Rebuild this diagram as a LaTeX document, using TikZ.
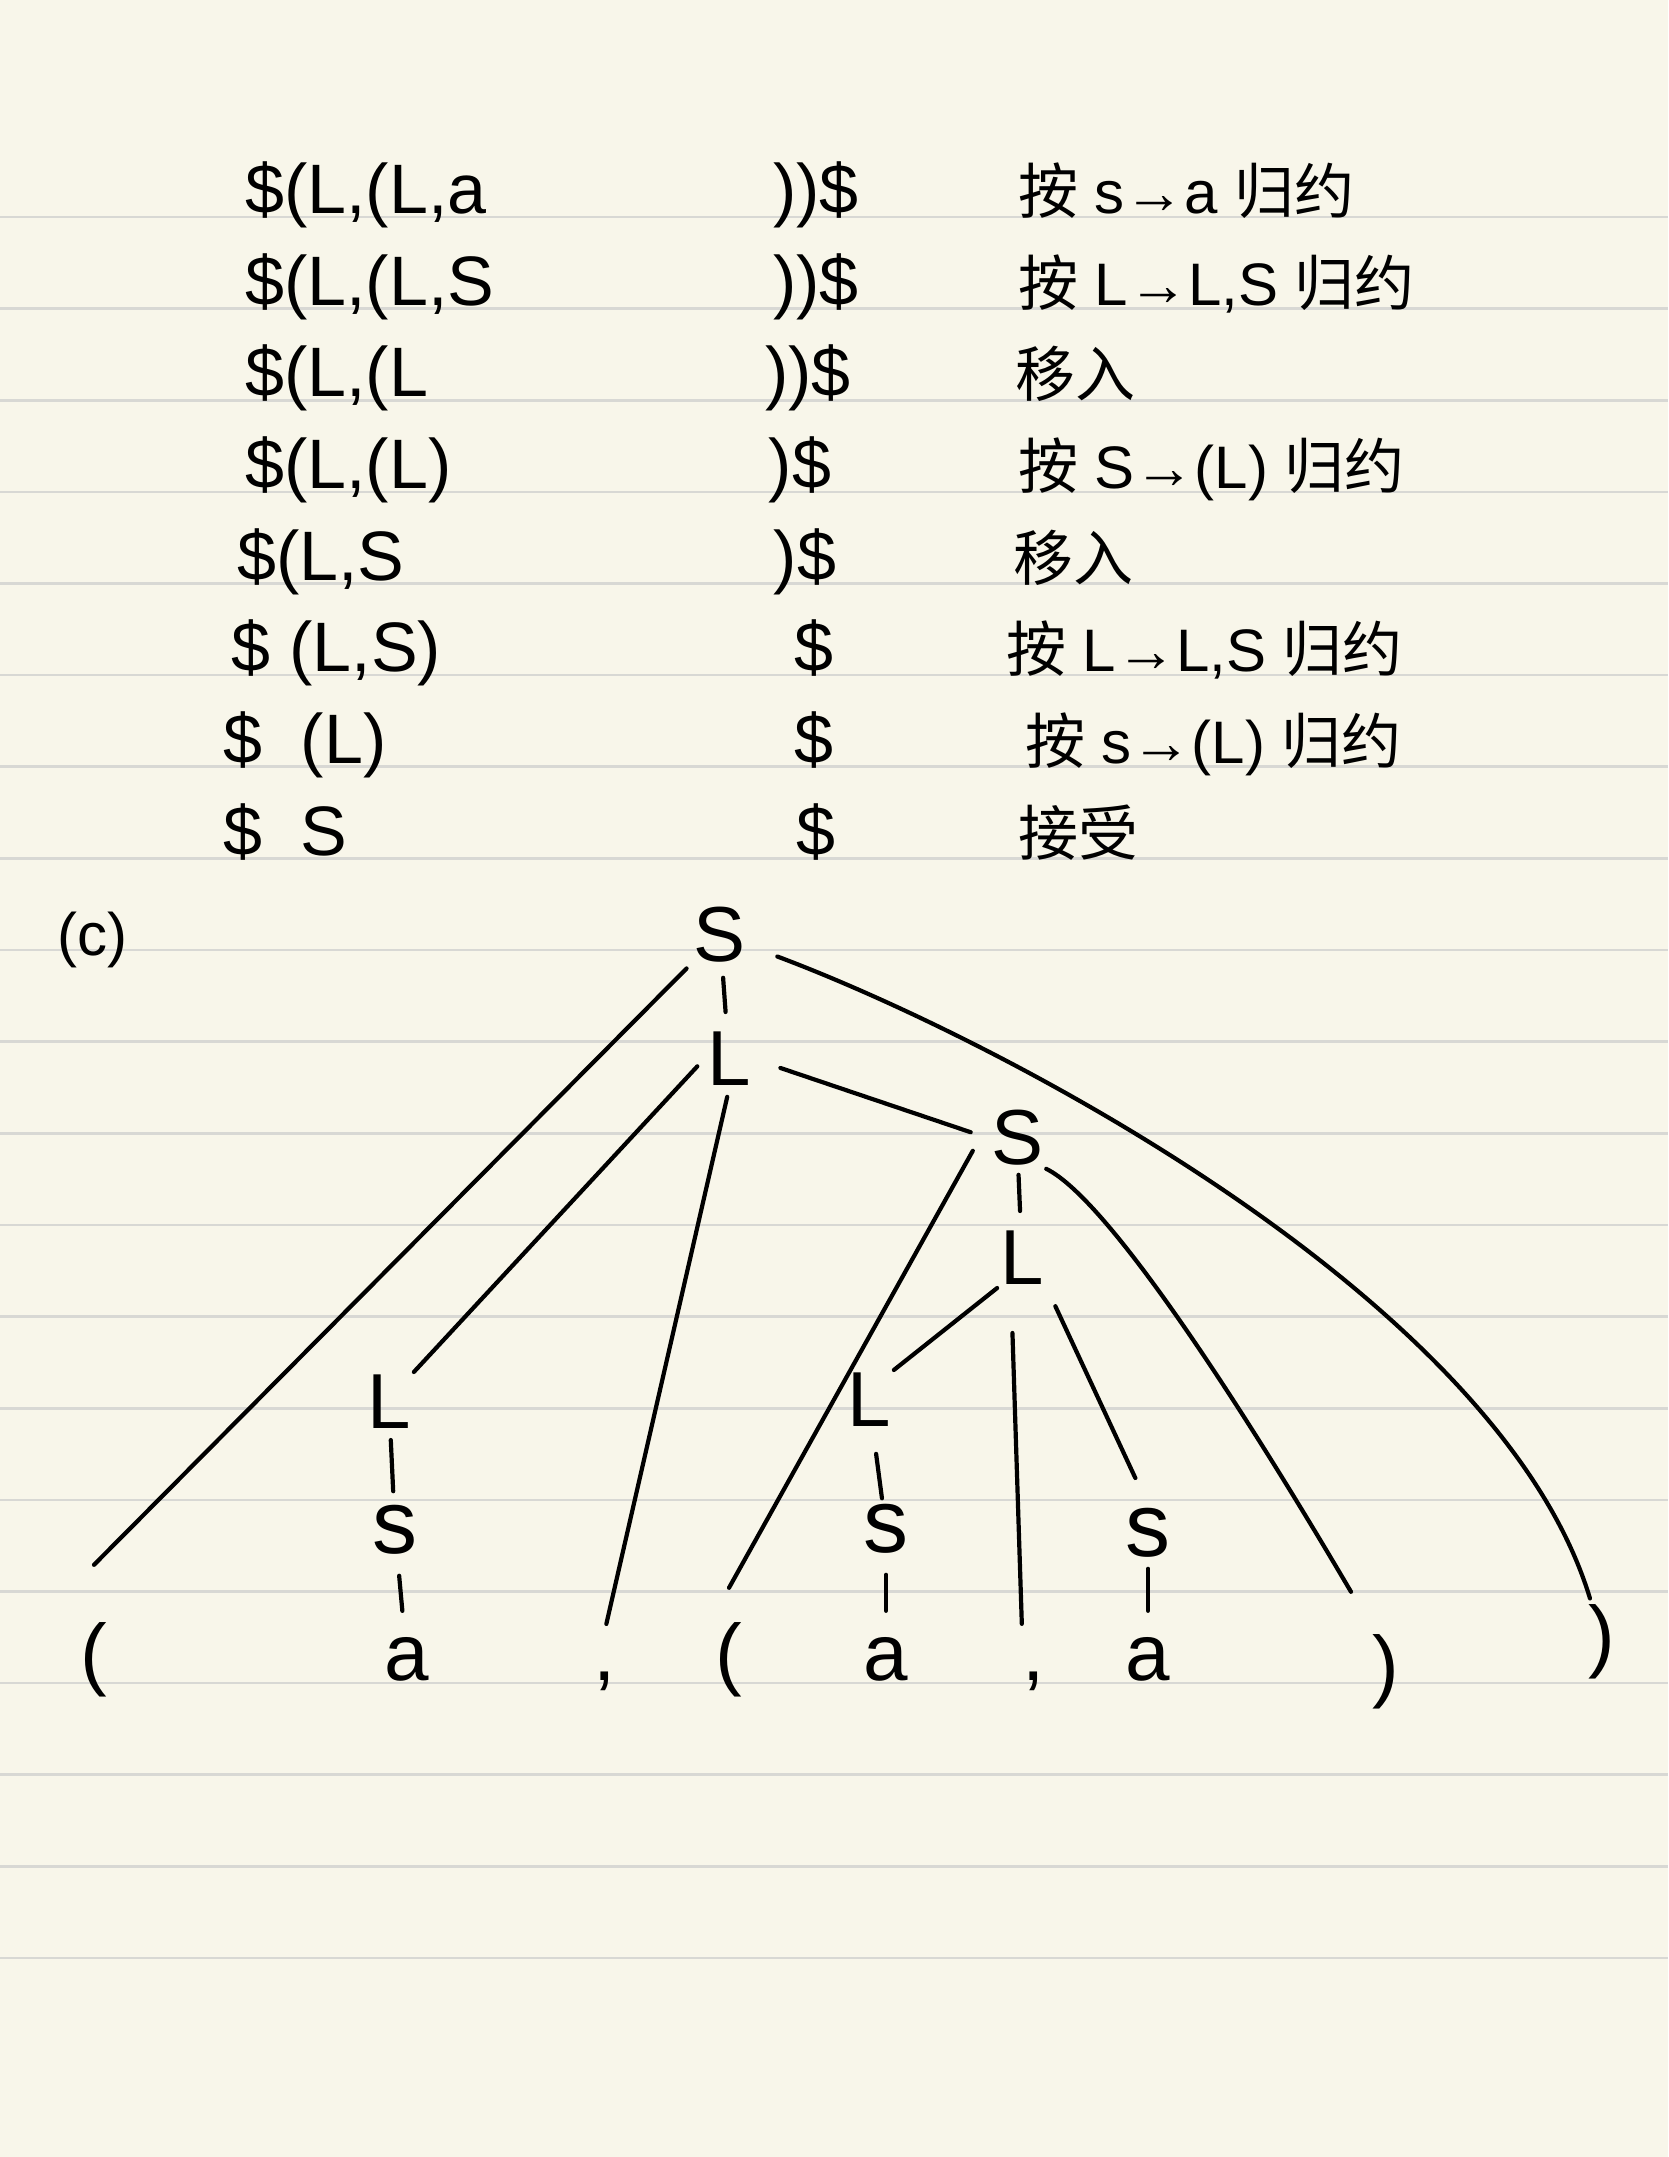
\documentclass[tikz,border=0pt]{standalone}
\usepackage{fontspec}
\setmainfont{Liberation Sans}
\newfontfamily\cjk{Noto Sans CJK SC}
\definecolor{paper}{HTML}{F8F6EA}
\definecolor{ruling}{HTML}{D8D8D4}
\tikzset{
  stack/.style={anchor=base west, inner sep=0pt, font=\fontsize{70}{80}\selectfont},
  input/.style={anchor=base, inner sep=0pt, font=\fontsize{70}{80}\selectfont},
  action/.style={anchor=base west, inner sep=0pt, font=\fontsize{60}{70}\selectfont},
  sym/.style={inner sep=3pt, font=\fontsize{78}{90}\selectfont},
  leaf/.style={anchor=base, inner sep=0pt, text height=50pt, text depth=14pt, font=\fontsize{80}{90}\selectfont},
  edge/.style={line width=4.2pt, line cap=round}
}
\begin{document}
\begin{tikzpicture}[x=1pt, y=-1pt]
    \useasboundingbox (0,0) rectangle (1668,2157);
    % Ruled paper
    \fill[paper] (0,0) rectangle (1668,2157);
    \foreach \k in {0,...,19}
        \draw[ruling, line width=2.6pt] (0,217+91.63*\k) -- (1668,217+91.63*\k);

    % Trace table
    \node[stack] (r1a) at (245,213) {\$(L,(L,a};
    \node[input] (r1b) at (816,213) {))\$};
    \node[action] (r1c) at (1018,213) {{\cjk 按} s→a {\cjk 归约}};

    \node[stack] (r2a) at (245,305) {\$(L,(L,S};
    \node[input] (r2b) at (816,305) {))\$};
    \node[action] (r2c) at (1018,305) {{\cjk 按} L→L,S {\cjk 归约}};

    \node[stack] (r3a) at (245,396) {\$(L,(L};
    \node[input] (r3b) at (808,396) {))\$};
    \node[action] (r3c) at (1015,396) {{\cjk 移入}};

    \node[stack] (r4a) at (245,488) {\$(L,(L)};
    \node[input] (r4b) at (800,488) {)\$};
    \node[action] (r4c) at (1018,488) {{\cjk 按} S→(L) {\cjk 归约}};

    \node[stack] (r5a) at (237,580) {\$(L,S};
    \node[input] (r5b) at (805,580) {)\$};
    \node[action] (r5c) at (1013,580) {{\cjk 移入}};

    \node[stack] (r6a) at (231,671) {\$ (L,S)};
    \node[input] (r6b) at (814,671) {\$};
    \node[action] (r6c) at (1006,671) {{\cjk 按} L→L,S {\cjk 归约}};

    \node[stack] (r7a) at (223,763) {\$ \ (L)};
    \node[input] (r7b) at (814,763) {\$};
    \node[action] (r7c) at (1025,763) {{\cjk 按} s→(L) {\cjk 归约}};

    \node[stack] (r8a) at (223,855) {\$ \ S};
    \node[input] (r8b) at (816,855) {\$};
    \node[action] (r8c) at (1018,855) {{\cjk 接受}};

    % Parse tree
    \node[font=\fontsize{60}{70}\selectfont] (tag) at (92,940) {(c)};

    \node[sym] (root) at (720,935) {S};
    \node[sym] (l1) at (729,1059) {L};
    \node[sym] (s2) at (1017,1138) {S};
    \node[sym] (l2) at (1022,1258) {L};
    \node[sym] (l3) at (389,1402) {L};
    \node[sym] (l4) at (869,1400) {L};
    \node[sym, font=\fontsize{90}{100}\selectfont] (sa) at (395,1530) {s};
    \node[sym, font=\fontsize{90}{100}\selectfont] (sb) at (886,1529) {s};
    \node[sym, font=\fontsize{90}{100}\selectfont] (sc) at (1148,1533) {s};

    \node[leaf] (lpa) at (94,1680) {(};
    \node[leaf] (aa) at (407,1680) {a};
    \node[leaf] (cma) at (605,1680) {,};
    \node[leaf] (lpb) at (729,1680) {(};
    \node[leaf] (ab) at (886,1680) {a};
    \node[leaf] (cmb) at (1034,1680) {,};
    \node[leaf] (ac) at (1148,1680) {a};
    \node[leaf] (rpa) at (1386,1692) {)};
    \node[leaf] (rpb) at (1602,1662) {)};

    % S -> ( L )
    \draw[edge, shorten <=6pt] (root) -- ([yshift=65pt]lpa.north);
    \draw[edge, shorten <=12pt, shorten >=17pt] (root) -- (l1);
    \draw[edge, shorten <=30pt, shorten >=14pt] (root) .. controls (1000,1040) and (1500,1300) .. ([xshift=-8pt]rpb.north);
    % L -> L , S
    \draw[edge, shorten <=10pt] (l1.west) -- (l3.north east);
    \draw[edge, shorten <=8pt, shorten >=6pt] (l1.south) -- (cma.north);
    \draw[edge, shorten <=28pt, shorten >=18pt] (l1.east) -- (s2.west);
    % S -> ( L )
    \draw[edge] ([xshift=-15pt,yshift=18pt]s2.south west) -- ([yshift=42pt]lpb.north);
    \draw[edge, shorten <=6pt, shorten >=17pt] (s2) -- (l2);
    \draw[edge] (s2.south east) .. controls (1110,1200) and (1250,1420) .. ([xshift=-35pt,yshift=50pt]rpa.north);
    % L -> L , S
    \draw[edge] (l2.south west) -- (l4.north east);
    \draw[edge, shorten <=45pt, shorten >=6pt] ([xshift=-11pt]l2.south) -- ([xshift=-12pt]cmb.north);
    \draw[edge, shorten <=20pt, shorten >=30pt] (l2.south east) -- (sc.north);
    % L -> S -> a
    \draw[edge, shorten <=8pt, shorten >=11pt] (l3) -- (sa);
    \draw[edge, shorten <=18pt, shorten >=19pt] (sa) -- (aa);
    \draw[edge, shorten <=24pt, shorten >=3pt] (l4) -- (sb);
    \draw[edge, shorten <=18pt, shorten >=19pt] (sb) -- (ab);
    \draw[edge, shorten <=8pt, shorten >=19pt] (sc) -- (ac);
\end{tikzpicture}
\end{document}
